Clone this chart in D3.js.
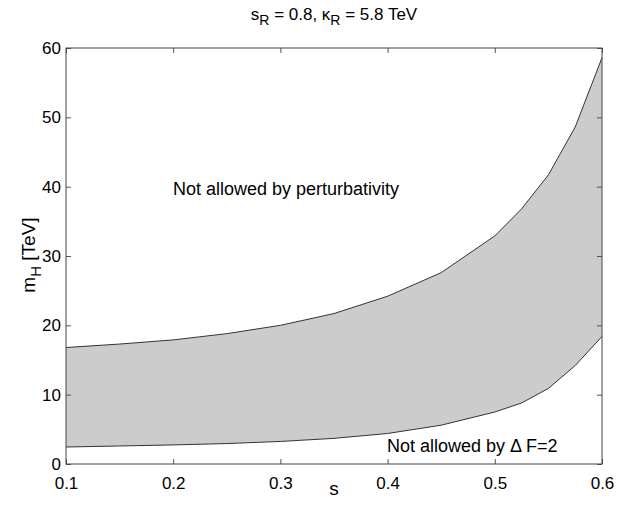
<!DOCTYPE html>
<html><head><meta charset="utf-8">
<script src="https://cdn.jsdelivr.net/npm/d3@7"></script>
<style>body{margin:0;background:#fff}svg{display:block}text{font-family:"Liberation Sans",Arial,sans-serif;fill:#000}</style>
</head><body>
<svg id="c" width="617" height="513"></svg>
<script>
const sValues = [0.1, 0.15, 0.2, 0.25, 0.3, 0.35, 0.4, 0.45, 0.5, 0.525, 0.55, 0.575, 0.6];
const upperBound = [16.8, 17.3, 17.9, 18.8, 20.0, 21.7, 24.2, 27.6, 32.9, 36.8, 41.7, 48.6, 58.6];
const lowerBound = [2.45, 2.6, 2.75, 2.95, 3.25, 3.7, 4.4, 5.6, 7.5, 8.8, 10.9, 14.2, 18.4];
const xTicks = [0.1, 0.2, 0.3, 0.4, 0.5, 0.6];
const yTicks = [0, 10, 20, 30, 40, 50, 60];

const L = 66, R = 602, T = 48, B = 464;
const FONT = '"Liberation Sans",Arial,sans-serif';
const svg = d3.select("#c");
const x = d3.scaleLinear().domain([0.1, 0.6]).range([L, R]);
const y = d3.scaleLinear().domain([0, 60]).range([B, T]);
const data = sValues.map((s, i) => ({s, lo: lowerBound[i], hi: upperBound[i]}));

svg.append("path").datum(data)
  .attr("d", d3.area().x(d => x(d.s)).y0(d => y(d.lo)).y1(d => y(d.hi)))
  .attr("fill", "#cccccc");
svg.append("path").datum(data).attr("d", d3.line().x(d => x(d.s)).y(d => y(d.hi))).attr("fill","none").attr("stroke","#333").attr("stroke-width",1);
svg.append("path").datum(data).attr("d", d3.line().x(d => x(d.s)).y(d => y(d.lo))).attr("fill","none").attr("stroke","#333").attr("stroke-width",1);

const ax = (g, axis) => {
  g.call(axis);
  g.select(".domain").remove();
  g.selectAll("line").attr("stroke", "#555");
  g.selectAll("text").attr("font-size", 17).attr("font-family", FONT).attr("fill","#000");
};
svg.append("g").attr("transform", `translate(0,${B})`)
  .call(g => ax(g, d3.axisBottom(x).tickValues(xTicks).tickFormat(d3.format(".1f")).tickSizeInner(-5).tickPadding(12.5)));
svg.append("g").attr("transform", `translate(0,${T})`)
  .call(g => ax(g, d3.axisTop(x).tickValues(xTicks).tickSizeInner(-5).tickFormat("")));
svg.append("g").attr("transform", `translate(${L},0)`)
  .call(g => ax(g, d3.axisLeft(y).tickValues(yTicks).tickSizeInner(-5).tickPadding(5)));
svg.append("g").attr("transform", `translate(${R},0)`)
  .call(g => ax(g, d3.axisRight(y).tickValues(yTicks).tickSizeInner(-5).tickFormat("")));

svg.append("rect").attr("x", L).attr("y", T).attr("width", R - L).attr("height", B - T)
  .attr("fill", "none").attr("stroke", "#444").attr("stroke-width", 1);

// title
const title = svg.append("text").attr("x", 334).attr("y", 20).attr("text-anchor", "middle").attr("font-size", 17);
title.append("tspan").text("s");
title.append("tspan").attr("dy", 5).attr("font-size", 14).text("R");
title.append("tspan").attr("dy", -5).text(" = 0.8, κ");
title.append("tspan").attr("dy", 5).attr("font-size", 14).text("R");
title.append("tspan").attr("dy", -5).text(" = 5.8 TeV");

svg.append("text").attr("x", 334).attr("y", 495).attr("text-anchor", "middle").attr("font-size", 19).text("s");

const yl = svg.append("text").attr("transform", "translate(35,255) rotate(-90)").attr("text-anchor", "middle").attr("font-size", 19);
yl.append("tspan").text("m");
yl.append("tspan").attr("dy", 6).attr("font-size", 15).text("H");
yl.append("tspan").attr("dy", -6).text(" [TeV]");

svg.append("text").attr("x", 173).attr("y", 195).attr("font-size", 18).text("Not allowed by perturbativity");
const t2 = svg.append("text").attr("x", 387).attr("y", 452).attr("font-size", 18);
t2.append("tspan").text("Not allowed by ");
t2.append("tspan").text("Δ");
t2.append("tspan").text(" F=2");
</script>
</body></html>
